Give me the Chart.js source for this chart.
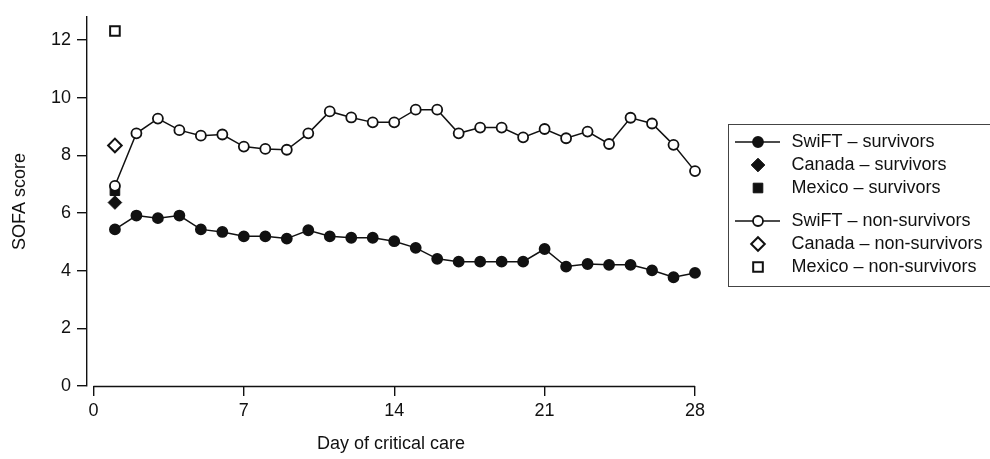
<!DOCTYPE html>
<html>
<head>
<meta charset="utf-8">
<title>SOFA score by day of critical care</title>
<script src="https://cdn.jsdelivr.net/npm/chart.js@4.4.1/dist/chart.umd.min.js"></script>
<style>
  html, body { margin: 0; padding: 0; background: #fff; }
  #wrap { width: 990px; height: 459px; }
</style>
</head>
<body>
<div id="wrap"><canvas id="sofaChart"></canvas></div>
<script>
// daily mean SOFA, days 1-28
const days = [1, 2, 3, 4, 5, 6, 7, 8, 9, 10, 11, 12, 13, 14,
              15, 16, 17, 18, 19, 20, 21, 22, 23, 24, 25, 26, 27, 28];
const swiftSurvivors = [5.43, 5.91, 5.82, 5.91, 5.43, 5.34, 5.19, 5.19, 5.11, 5.40, 5.19, 5.14, 5.14, 5.02,
                        4.79, 4.41, 4.31, 4.31, 4.31, 4.31, 4.75, 4.14, 4.23, 4.20, 4.20, 4.01, 3.77, 3.92];
const swiftNonSurvivors = [6.94, 8.76, 9.27, 8.87, 8.68, 8.72, 8.30, 8.22, 8.19, 8.76, 9.52, 9.31, 9.14, 9.14,
                           9.58, 9.58, 8.76, 8.96, 8.96, 8.62, 8.91, 8.59, 8.82, 8.39, 9.30, 9.10, 8.36, 7.45];

// comparison cohorts, day 1 only
const cohortDay = [1];
const canadaSurvivors = [6.36];
const canadaNonSurvivors = [8.34];
const mexicoSurvivors = [6.77];
const mexicoNonSurvivors = [12.31];

const xTicks = [0, 7, 14, 21, 28];
const yTicks = [0, 2, 4, 6, 8, 10, 12];

const INK = '#111';
const FONT = "'Liberation Sans', Arial, Helvetica, sans-serif";

Chart.defaults.font.family = FONT;
Chart.defaults.font.size = 18;
Chart.defaults.color = INK;

const toPoints = (xs, ys) => ys.map((y, i) => ({ x: xs[i], y: y }));

function series(label, xs, ys, style) {
  return Object.assign({
    label: label,
    data: toPoints(xs, ys),
    borderColor: INK,
    borderWidth: 1.5,
    pointBorderColor: INK,
    pointBorderWidth: 1.8,
    pointHoverRadius: 0,
    clip: false,
    order: 1
  }, style);
}

const datasets = [
  series('SwiFT – survivors', days, swiftSurvivors,
    { pointStyle: 'circle', pointRadius: 5, pointBackgroundColor: INK }),
  series('Canada – survivors', cohortDay, canadaSurvivors,
    { showLine: false, pointStyle: 'rectRot', pointRadius: 6.8, pointBackgroundColor: INK, pointBorderWidth: 1 }),
  series('Mexico – survivors', cohortDay, mexicoSurvivors,
    { showLine: false, pointStyle: 'rect', pointRadius: 6.8, pointBackgroundColor: INK, pointBorderWidth: 1 }),
  series('SwiFT – non-survivors', days, swiftNonSurvivors,
    { pointStyle: 'circle', pointRadius: 5, pointBackgroundColor: '#fff', order: 0 }),
  series('Canada – non-survivors', cohortDay, canadaNonSurvivors,
    { showLine: false, pointStyle: 'rectRot', pointRadius: 6.8, pointBackgroundColor: '#fff', pointBorderWidth: 2 }),
  series('Mexico – non-survivors', cohortDay, mexicoNonSurvivors,
    { showLine: false, pointStyle: 'rect', pointRadius: 6.8, pointBackgroundColor: '#fff', pointBorderWidth: 2 })
];

// x axis line runs only from the first to the last tick, detached from the y axis
const xAxisLine = {
  id: 'xAxisLine',
  beforeDatasetsDraw(chart) {
    const { ctx, scales: { x, y } } = chart;
    const yy = Math.round(y.getPixelForValue(0)) + 0.5;
    ctx.save();
    ctx.strokeStyle = INK;
    ctx.lineWidth = 1.4;
    ctx.beginPath();
    ctx.moveTo(x.getPixelForValue(xTicks[0]), yy);
    ctx.lineTo(x.getPixelForValue(xTicks[xTicks.length - 1]), yy);
    ctx.stroke();
    ctx.restore();
  }
};

// boxed legend to the right of the plot, survivors and non-survivors in two groups
const boxLegend = {
  id: 'boxLegend',
  afterDraw(chart) {
    const { ctx, chartArea } = chart;
    const left = Math.round(chartArea.right + 33) + 0.5;
    const top = 124.5;
    ctx.save();
    ctx.strokeStyle = '#444';
    ctx.lineWidth = 1;
    ctx.strokeRect(left, top, chart.width - left + 20, 162);

    ctx.font = '18px ' + FONT;
    ctx.textBaseline = 'middle';
    ctx.textAlign = 'left';
    chart.data.datasets.forEach((ds, i) => {
      const y = top + 17.5 + i * 23 + (i >= 3 ? 10 : 0);
      const cx = left + 29.5;
      if (ds.showLine !== false) {
        ctx.strokeStyle = ds.borderColor;
        ctx.lineWidth = ds.borderWidth;
        ctx.beginPath();
        ctx.moveTo(left + 6.5, y);
        ctx.lineTo(left + 51.5, y);
        ctx.stroke();
      }
      ctx.fillStyle = ds.pointBackgroundColor;
      ctx.strokeStyle = ds.pointBorderColor;
      ctx.lineWidth = ds.pointBorderWidth;
      Chart.helpers.drawPoint(ctx, {
        pointStyle: ds.pointStyle,
        radius: ds.pointRadius,
        borderWidth: ds.pointBorderWidth,
        rotation: 0
      }, cx, y);
      ctx.fillStyle = INK;
      ctx.fillText(ds.label, left + 63, y);
    });
    ctx.restore();
  }
};

const tickGrid = {
  drawOnChartArea: false,
  drawTicks: true,
  tickLength: 10,
  color: INK,
  lineWidth: 1.4
};

new Chart(document.getElementById('sofaChart'), {
  type: 'line',
  data: { datasets: datasets },
  options: {
    responsive: true,
    maintainAspectRatio: false,
    animation: false,
    events: [],
    layout: { padding: { top: 12, right: 295, left: 0, bottom: 0 } },
    plugins: {
      legend: { display: false },
      tooltip: { enabled: false }
    },
    scales: {
      x: {
        type: 'linear',
        min: -0.3,
        max: 28,
        afterBuildTicks: (scale) => { scale.ticks = xTicks.map(v => ({ value: v })); },
        afterFit: (scale) => { scale.height = 73; },
        border: { display: false },
        grid: tickGrid,
        ticks: { padding: 4, maxRotation: 0, autoSkip: false },
        title: {
          display: true,
          text: 'Day of critical care',
          padding: { top: 0, bottom: 4 }
        }
      },
      y: {
        type: 'linear',
        min: 0,
        max: 12.8,
        afterBuildTicks: (scale) => { scale.ticks = yTicks.map(v => ({ value: v })); },
        afterFit: (scale) => { scale.width = 87; },
        border: { display: true, color: INK, width: 1.4 },
        grid: tickGrid,
        ticks: { padding: 6 },
        title: {
          display: true,
          text: 'SOFA score',
          padding: { top: 9, bottom: 0 }
        }
      }
    }
  },
  plugins: [xAxisLine, boxLegend]
});
</script>
</body>
</html>
